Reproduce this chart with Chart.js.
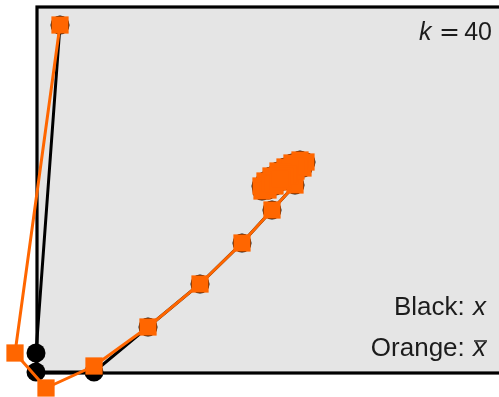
<!DOCTYPE html>
<html>
<head>
<meta charset="utf-8">
<script src="https://cdn.jsdelivr.net/npm/chart.js@4.4.1/dist/chart.umd.min.js"></script>
<style>
  html, body { margin: 0; padding: 0; background: #ffffff; }
  #wrap { width: 499px; height: 397px; }
</style>
</head>
<body>
<div id="wrap"><canvas id="c" width="499" height="397"></canvas></div>
<script>
// Iterates x_k (black) and their running averages x̄_k (orange), k = 0..40
const iterX = [23, -1, -1, 57, 111, 163, 205, 235, 258, 266, 269, 263, 255, 248, 241, 234, 228, 224, 225, 231, 238, 246, 253, 259, 262, 259, 253, 246, 240, 235, 233, 236, 241, 246, 250, 252, 251, 248, 245, 243, 243];
const iterY = [348, 20, 1, 1, 46, 89, 130, 163, 188, 205, 211, 213, 210, 206, 202, 197, 192, 187, 182, 183, 187, 192, 197, 202, 206, 207, 205, 201, 197, 193, 190, 189, 191, 194, 197, 199, 199, 197, 195, 194, 194];
const avgX = [23, -22, 9, 57, 111, 163, 205, 235, 258, 266, 269, 263, 255, 248, 241, 234, 228, 224, 225, 231, 238, 246, 253, 259, 262, 259, 253, 246, 240, 235, 233, 236, 241, 246, 250, 252, 251, 248, 245, 243, 243];
const avgY = [348, 20, -15, 7, 46, 89, 130, 163, 188, 205, 211, 213, 210, 206, 202, 197, 192, 187, 182, 183, 187, 192, 197, 202, 206, 207, 205, 201, 197, 193, 190, 189, 191, 194, 197, 199, 199, 197, 195, 194, 194];

// Panel extent in data units
const panelX = [0, 470];
const panelY = [0, 366];

const iterLabel = 'Black: ';
const avgLabel = 'Orange: ';
const stepLabel = '40';

const ORANGE = '#ff6600';
const FRAME_BG = '#e5e5e5';
const TEXT = '#1c1c1c';

function toPoints(xs, ys) {
  return xs.map((x, i) => ({ x: x, y: ys[i] }));
}

// Grey panel with a heavy frame behind the trajectories
const framePlugin = {
  id: 'frame',
  beforeDatasetsDraw(chart) {
    const sx = chart.scales.x, sy = chart.scales.y;
    const l = sx.getPixelForValue(panelX[0]);
    const r = sx.getPixelForValue(panelX[1]);
    const t = sy.getPixelForValue(panelY[1]);
    const b = sy.getPixelForValue(panelY[0]);
    const ctx = chart.ctx;
    ctx.save();
    ctx.fillStyle = FRAME_BG;
    ctx.fillRect(l, t, r - l, b - t);
    ctx.strokeStyle = '#000000';
    ctx.lineWidth = 3.2;
    ctx.strokeRect(l, t, r - l, b - t);
    ctx.restore();
  }
};

// Annotations: iteration count and series key
const notesPlugin = {
  id: 'notes',
  afterDraw(chart) {
    const ctx = chart.ctx;
    ctx.save();
    ctx.fillStyle = TEXT;
    ctx.strokeStyle = TEXT;
    ctx.textBaseline = 'alphabetic';
    const up = "26px 'Liberation Sans', Arial, sans-serif";
    const it = "italic 26px 'Liberation Sans', Arial, sans-serif";

    // k = 40
    ctx.textAlign = 'left';
    ctx.font = "italic 25px 'Liberation Sans', Arial, sans-serif";
    ctx.fillText('k', 419, 40);
    ctx.font = "25px 'DejaVu Sans', sans-serif";
    ctx.fillText('=', 439, 40);
    ctx.textAlign = 'right';
    ctx.font = "25px 'Liberation Sans', Arial, sans-serif";
    ctx.fillText(stepLabel, 492, 40);

    // Black: x
    const R2 = 486;
    ctx.font = it;
    const wx = ctx.measureText('x').width;
    ctx.fillText('x', R2, 315);
    ctx.font = up;
    ctx.fillText(iterLabel, R2 - wx - 1, 315);

    // Orange: x̄
    ctx.font = it;
    ctx.fillText('x', R2, 356);
    ctx.lineWidth = 1.5;
    ctx.beginPath();
    ctx.moveTo(R2 - wx + 1, 341);
    ctx.lineTo(R2 + 1, 341);
    ctx.stroke();
    ctx.font = up;
    ctx.fillText(avgLabel, R2 - wx - 1, 356);
    ctx.restore();
  }
};

new Chart(document.getElementById('c'), {
  type: 'scatter',
  data: {
    datasets: [
      {
        label: 'avg',
        data: toPoints(avgX, avgY),
        showLine: true,
        borderColor: ORANGE,
        borderWidth: 3,
        pointStyle: 'rect',
        pointRadius: 12.2,
        pointBackgroundColor: ORANGE,
        pointBorderWidth: 0,
        pointHoverRadius: 12.2,
        clip: false,
        order: 0
      },
      {
        label: 'iter',
        data: toPoints(iterX, iterY),
        showLine: true,
        borderColor: '#000000',
        borderWidth: 3,
        pointStyle: 'circle',
        pointRadius: 9.5,
        pointBackgroundColor: '#000000',
        pointBorderWidth: 0,
        pointHoverRadius: 9.5,
        clip: false,
        order: 1
      }
    ]
  },
  options: {
    responsive: false,
    animation: false,
    devicePixelRatio: 1,
    layout: { padding: 0, autoPadding: false },
    plugins: { legend: { display: false }, tooltip: { enabled: false } },
    scales: {
      x: { type: 'linear', display: false, min: -37, max: 462 },
      y: { type: 'linear', display: false, min: -24, max: 373 }
    }
  },
  plugins: [framePlugin, notesPlugin]
});
</script>
</body>
</html>
